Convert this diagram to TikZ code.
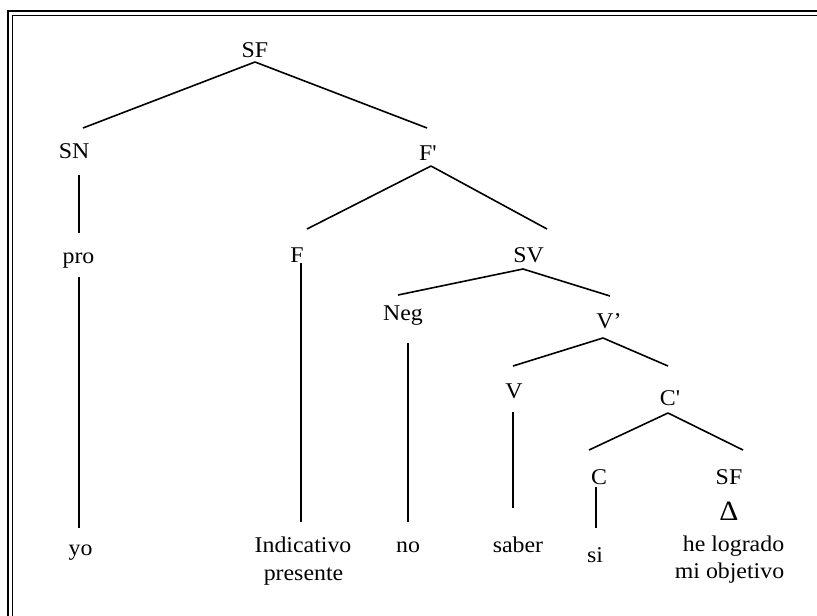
\documentclass[tikz,border=0pt]{standalone}
\usepackage{fontspec}
\setmainfont{Liberation Serif}[FakeStretch=1.06,Ligatures=TeXOff]
\usetikzlibrary{calc}
\tikzset{
  lbl/.style={anchor=base,inner sep=0pt,font=\fontsize{22.5}{27}\selectfont},
  br/.style={line width=1.6pt},
  frameout/.style={line width=2pt},
  framein/.style={line width=1.4pt}
}
\begin{document}
\begin{tikzpicture}[x=1pt,y=-1pt]
\useasboundingbox (0,0) rectangle (817,616);
% frame (cropped at right and bottom)
\draw[frameout] (8,640) -- (8,11) -- (840,11);
\draw[framein] (12.5,640) -- (12.5,15.5) -- (840,15.5);
% nodes
\node[lbl] (sf) at (255,57) {SF};
\node[lbl] (sn) at (74,158) {SN};
\node[lbl] (fp) at (428,160) {F'};
\node[lbl] (pro) at (78.5,263) {pro};
\node[lbl] (f) at (297,262) {F};
\node[lbl] (sv) at (528.5,262) {SV};
\node[lbl] (neg) at (403,320) {Neg};
\node[lbl] (vp) at (609,328) {V’};
\node[lbl] (v) at (514,398) {V};
\node[lbl] (cp) at (670,405) {C'};
\node[lbl] (c) at (599,484) {C};
\node[lbl] (sf2) at (729,484) {SF};
\node[lbl,font=\fontsize{28}{30}\selectfont] (tri) at (729,520) {Δ};
\node[lbl] (yo) at (80.5,555) {yo};
\node[lbl] (ind) at (303,552) {Indicativo};
\node[lbl] (ind2) at (303.5,580) {presente};
\node[lbl] (no) at (408,552) {no};
\node[lbl] (saber) at (518,552) {saber};
\node[lbl] (si) at (595,562) {si};
\node[lbl] (he) at (733.5,551) {he logrado};
\node[lbl] (mi) at (729.5,578) {mi objetivo};
% branches
\draw[br] ($(sf.base)+(0,5)$) -- ($(sn.base)+(9,-30)$);
\draw[br] ($(sf.base)+(0,5)$) -- ($(fp.base)+(-1,-32)$);
\draw[br] ($(sn.base)+(5,17)$) -- ($(pro.base)+(0.5,-30)$);
\draw[br] ($(pro.base)+(0.5,14)$) -- ($(yo.base)+(-1.5,-27)$);
\draw[br] ($(fp.base)+(3,6)$) -- ($(f.base)+(10,-33)$);
\draw[br] ($(fp.base)+(3,6)$) -- ($(sv.base)+(18.5,-33)$);
\draw[br] ($(f.base)+(4,1)$) -- ($(ind.base)+(-2,-30)$);
\draw[br] ($(sv.base)+(-5.5,7)$) -- ($(neg.base)+(-5,-25)$);
\draw[br] ($(sv.base)+(-5.5,7)$) -- ($(vp.base)+(1,-32)$);
\draw[br] ($(neg.base)+(5,23)$) -- ($(no.base)+(0,-30)$);
\draw[br] ($(vp.base)+(-6,10)$) -- ($(v.base)+(-1,-32)$);
\draw[br] ($(vp.base)+(-6,10)$) -- ($(cp.base)+(-2,-39)$);
\draw[br] ($(v.base)+(-1,14)$) -- ($(saber.base)+(-5,-44)$);
\draw[br] ($(cp.base)+(-2,8)$) -- ($(c.base)+(-10,-34)$);
\draw[br] ($(cp.base)+(-2,8)$) -- ($(sf2.base)+(14,-34)$);
\draw[br] ($(c.base)+(-3,3)$) -- ($(si.base)+(1,-34)$);
\end{tikzpicture}
\end{document}
